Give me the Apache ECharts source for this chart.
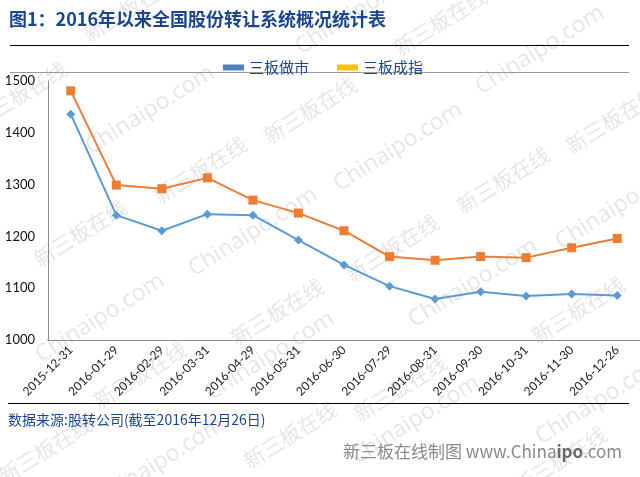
<!DOCTYPE html>
<html><head><meta charset="utf-8">
<script src="https://cdn.jsdelivr.net/npm/echarts@6/dist/echarts.min.js"></script>
<style>html,body{margin:0;padding:0;background:#fff}#c{width:640px;height:477px}</style>
</head><body><div id="c"></div>
<script>
var categories = ['2015-12-31','2016-01-29','2016-02-29','2016-03-31','2016-04-29','2016-05-31','2016-06-30','2016-07-29','2016-08-31','2016-09-30','2016-10-31','2016-11-30','2016-12-26'];
var marketMaking = [1436,1241,1211,1243,1241,1193,1145,1104,1079,1093,1085,1089,1086];
var indexSeries = [1481,1299,1292,1313,1270,1245,1211,1161,1154,1161,1159,1178,1196];
var seriesNames = ['三板做市','三板成指'];
var yTicks = {min:1000, max:1500, interval:100};

var wmC = [[150,110],[253,232],[100,318],[398,147],[473,283],[540,50],[620,205],[270,356],[415,420],[160,462],[360,10],[600,400]];
var wmX = [[20,95],[200,170],[80,233],[310,110],[277,312],[503,180],[612,120],[392,248],[578,310],[440,22],[140,375],[400,388],[290,435],[45,450],[130,8],[560,460]];
var graphics = [];
wmC.forEach(function(p){graphics.push({type:'text',x:p[0],y:p[1],rotation:0.56,z:-10,silent:true,style:{text:'Chinaipo.com',fill:'#e6e6e6',font:'23px "Open Sans", sans-serif',textAlign:'center',textVerticalAlign:'middle'}});});
wmX.forEach(function(p){graphics.push({type:'text',x:p[0],y:p[1],rotation:0.56,z:-10,silent:true,style:{text:'新三板在线',fill:'#e6e6e6',font:'21px "Noto Sans CJK SC", sans-serif',textAlign:'center',textVerticalAlign:'middle'}});});
graphics.push({type:'text',left:9,top:10,style:{text:'图1：2016年以来全国股份转让系统概况统计表',fill:'#1b4592',font:'bold 18px "Noto Sans CJK SC", sans-serif'}});
graphics.push({type:'line',shape:{x1:10,y1:45.5,x2:629,y2:45.5},style:{stroke:'#000',lineWidth:1}});
graphics.push({type:'line',shape:{x1:10,y1:72.5,x2:629,y2:72.5},style:{stroke:'#999',lineWidth:1}});
graphics.push({type:'line',shape:{x1:8,y1:403.5,x2:629,y2:403.5},style:{stroke:'#000',lineWidth:1}});
graphics.push({type:'text',left:8,top:413,style:{text:'数据来源:股转公司(截至2016年12月26日)',fill:'#1b4592',font:'14px "Noto Sans CJK SC", sans-serif'}});
graphics.push({type:'text',left:343,top:443,style:{text:'{a|新三板在线制图 www.China}{b|ipo}{a|.com}',rich:{a:{fill:'#8a8a8a',font:'17px "Noto Sans CJK SC", sans-serif'},b:{fill:'#6a6a6a',font:'bold 17px "Noto Sans CJK SC", sans-serif'}}}});

var chart = echarts.init(document.getElementById('c'));
chart.setOption({
  animation:false,
  backgroundColor:'#fff',
  graphic:graphics,
  legend:{
    top:55,left:218,itemWidth:21,itemHeight:6,itemGap:28,icon:'rect',
    textStyle:{color:'#1b4592',fontSize:15,fontFamily:'"Noto Sans CJK SC", sans-serif'},
    data:[{name:seriesNames[0],itemStyle:{color:'#4f81bd'}},{name:seriesNames[1],itemStyle:{color:'#ffc000'}}]
  },
  grid:{left:48,right:0,top:81,bottom:137,containLabel:false},
  xAxis:{
    type:'category',data:categories,boundaryGap:true,
    axisLine:{lineStyle:{color:'#8c8c8c'}},axisTick:{show:false},
    axisLabel:{rotate:45,color:'#222',fontSize:12,fontFamily:'Lato, sans-serif',margin:8,interval:0}
  },
  yAxis:{
    type:'value',min:yTicks.min,max:yTicks.max,interval:yTicks.interval,
    axisLine:{show:true,lineStyle:{color:'#8c8c8c'}},axisTick:{show:false},splitLine:{show:false},
    axisLabel:{color:'#111',fontSize:13,fontFamily:'Lato, sans-serif',margin:13,formatter:function(v){return String(v);}}
  },
  series:[
    {name:seriesNames[0],type:'line',data:marketMaking,symbol:'diamond',symbolSize:9,
     lineStyle:{color:'#5b9bd5',width:2},itemStyle:{color:'#5b9bd5'}},
    {name:seriesNames[1],type:'line',data:indexSeries,symbol:'rect',symbolSize:9,
     lineStyle:{color:'#ed7d31',width:2},itemStyle:{color:'#ed7d31'}}
  ]
});
</script></body></html>
